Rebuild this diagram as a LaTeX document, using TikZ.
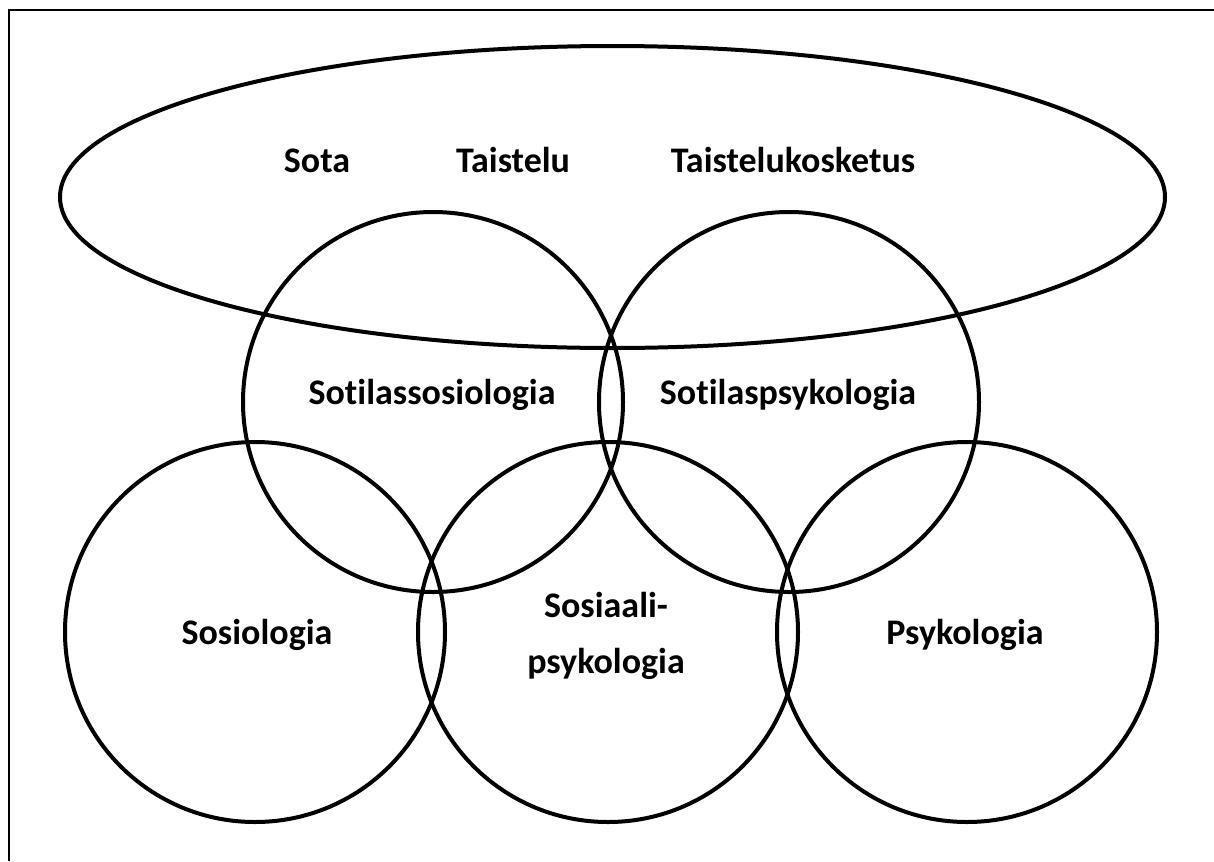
\documentclass[tikz,border=0pt]{standalone}
\usepackage{fontspec}
\setmainfont{Carlito}[Ligatures=NoCommon]

\tikzset{every picture/.style={line width=3pt}}
\tikzset{label text/.style={font=\bfseries\fontsize{27pt}{42pt}\selectfont, inner sep=0pt, align=center}}
\tikzset{one line/.style={text height=0.75em, text depth=0.25em}}

\begin{document}
\begin{tikzpicture}[x=0.75pt,y=0.75pt,yscale=-1,xscale=1]
	\useasboundingbox (0,0) rectangle (1214,861);

	%Frame (only top and left edge visible)
	\draw [line width=1.5pt]  (9,861) -- (9,10) -- (1214,10) ;
	%Shape: Ellipse [id:war]
	\draw  (612.5,197) ellipse (552.5 and 151) ;
	%Shape: Circle [id:milsoc]
	\draw  (433,402) circle (190) ;
	%Shape: Circle [id:milpsy]
	\draw  (789,402) circle (190) ;
	%Shape: Circle [id:soc]
	\draw  (255,632) circle (190) ;
	%Shape: Circle [id:socpsy]
	\draw  (608,632) circle (190) ;
	%Shape: Circle [id:psy]
	\draw  (967,632) circle (190) ;

	% Text Node
	\node [label text, one line] (sota) at (317,169) {Sota};
	% Text Node
	\node [label text, one line] (taistelu) at (513,169) {Taistelu};
	% Text Node
	\node [label text, one line] (kosketus) at (793,169) {Taistelukosketus};
	% Text Node
	\node [label text, one line] (sotsos) at (432,401) {Sotilassosiologia};
	% Text Node
	\node [label text, one line] (sotpsy) at (788,401) {Sotilaspsykologia};
	% Text Node
	\node [label text, one line] (sosio) at (257,641) {Sosiologia};
	% Text Node
	\node [label text] (sospsy) at (606,636) {Sosiaali-\\psykologia};
	% Text Node
	\node [label text, one line] (psyko) at (965,641) {Psykologia};

\end{tikzpicture}
\end{document}
